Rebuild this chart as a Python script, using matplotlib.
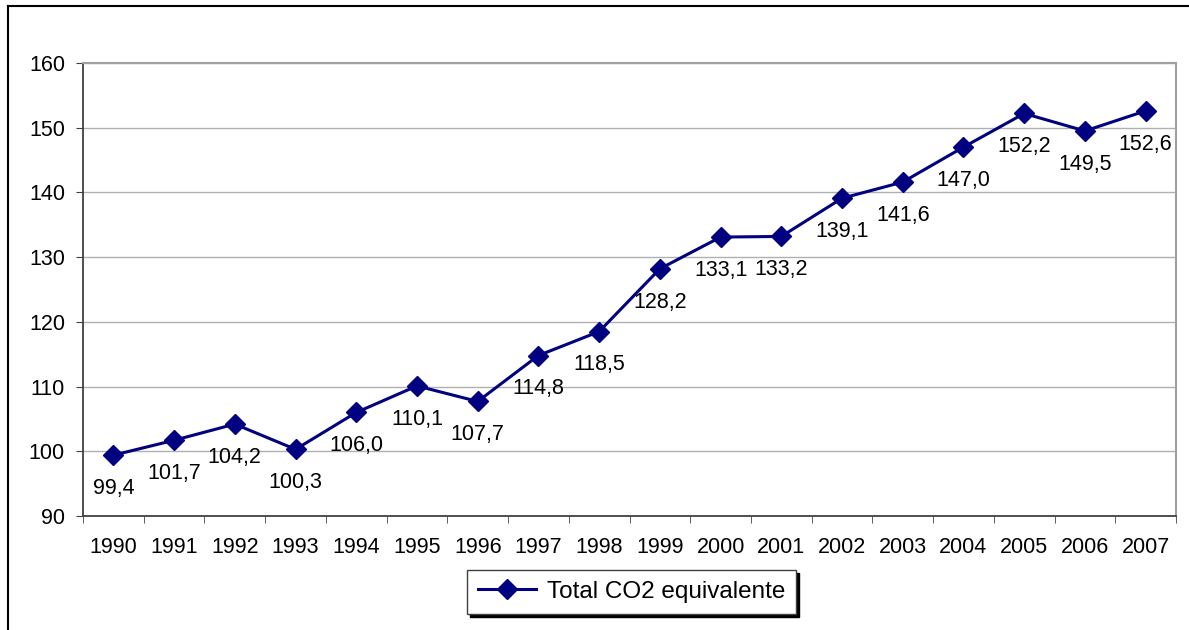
import matplotlib.pyplot as plt
from matplotlib.lines import Line2D

years = ["1990", "1991", "1992", "1993", "1994", "1995", "1996", "1997", "1998",
         "1999", "2000", "2001", "2002", "2003", "2004", "2005", "2006", "2007"]
values = [99.4, 101.7, 104.2, 100.3, 106.0, 110.1, 107.7, 114.8, 118.5,
          128.2, 133.1, 133.2, 139.1, 141.6, 147.0, 152.2, 149.5, 152.6]
yticks = [90, 100, 110, 120, 130, 140, 150, 160]

plt.rcParams['font.family'] = ['Liberation Sans', 'DejaVu Sans']

fig = plt.figure(figsize=(11.89, 6.30), dpi=100)
ax = fig.add_axes([83 / 1189, 114 / 630, 1093 / 1189, 453 / 630])

x = list(range(len(years)))
ax.plot(x, values, color="#000080", linewidth=2.2, marker="D", markersize=10,
        label="Total CO2 equivalente", zorder=3)

for xi, v in zip(x, values):
    ax.annotate(f"{v:.1f}".replace(".", ","), (xi, v), xytext=(0, -24),
                textcoords="offset points", ha="center", va="center",
                fontsize=15.5, color="black", zorder=4)

ax.set_xlim(-0.5, len(years) - 0.5)
ax.set_ylim(90, 160)
ax.set_yticks(yticks)
ax.set_xticks(x)
ax.set_xticklabels(years)
ax.set_xticks([i - 0.5 for i in range(len(years) + 1)], minor=True)
ax.tick_params(axis="x", which="major", length=0, pad=15, labelsize=15.5)
ax.tick_params(axis="x", which="minor", length=5, direction="out", color="#404040")
ax.tick_params(axis="y", length=5, direction="out", labelsize=15.5, color="#404040", pad=8)
ax.grid(axis="y", color="#b0b0b0", linewidth=1)
ax.set_axisbelow(True)

for side in ["left", "bottom"]:
    ax.spines[side].set_color("#404040")
    ax.spines[side].set_linewidth(1.3)
for side in ["top", "right"]:
    ax.spines[side].set_color("#a0a0a0")
    ax.spines[side].set_linewidth(1.5)

leg = ax.legend(loc="upper center", bbox_to_anchor=(0.502, -0.119), borderaxespad=0,
                frameon=True, fancybox=False, shadow={"color": "black", "alpha": 1},
                edgecolor="#404040", fontsize=17.5, handlelength=2.4, borderpad=0.45,
                handletextpad=0.45)
leg.get_frame().set_linewidth(1)

# outer frame of the chart area
fig.add_artist(Line2D([8 / 1189, 8 / 1189], [0, 1 - 6 / 630], color="black",
                      linewidth=1.5, transform=fig.transFigure))
fig.add_artist(Line2D([8 / 1189, 1], [1 - 6 / 630, 1 - 6 / 630], color="black",
                      linewidth=1.5, transform=fig.transFigure))

fig.savefig("out.png", dpi=100)
